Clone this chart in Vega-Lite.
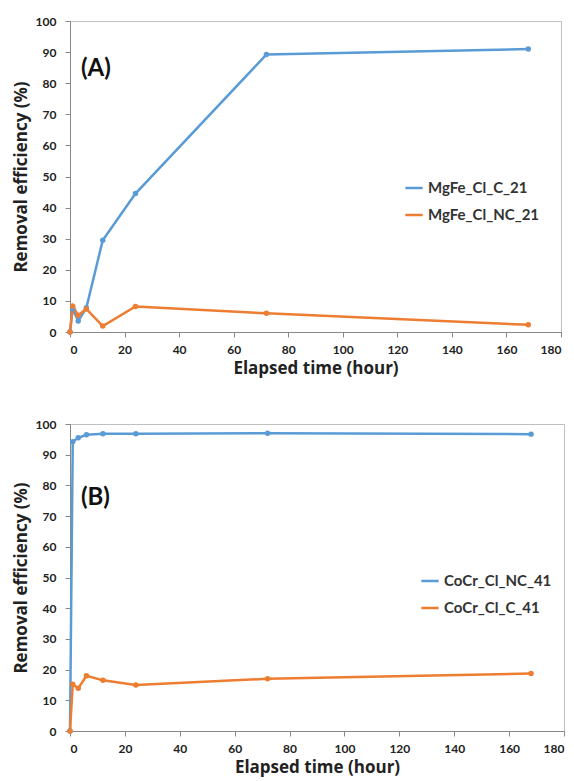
{
  "$schema": "https://vega.github.io/schema/vega-lite/v6.json",
  "background": "white",
  "padding": {"left": 11, "top": 14, "right": 5, "bottom": 5},
  "spacing": 40,
  "config": {
    "font": "Lato",
    "view": {"stroke": "#bfbfbf", "strokeWidth": 1},
    "axis": {
      "grid": false, "labelOverlap": false,
      "labelFont": "Lato", "labelFontWeight": "bold", "labelFontSize": 12, "labelColor": "#222",
      "titleFont": "Open Sans", "titleFontWeight": "bold", "titleFontSize": 17, "titleColor": "#222",
      "domainColor": "#888", "tickColor": "#888", "tickSize": 5
    },
    "axisY": {"labelPadding": 9, "titlePadding": 5},
    "axisX": {"labelPadding": 7, "titlePadding": 5},
    "legend": {"labelFont": "Lato", "labelFontWeight": "bold", "labelFontSize": 15, "labelColor": "#333", "symbolType": "stroke", "symbolStrokeWidth": 2.5, "symbolSize": 300, "rowPadding": 9}
  },
  "datasets": {
    "pts": [
      {"panel": "A", "series": "MgFe_Cl_C_21", "t": 0, "v": 0},
      {"panel": "A", "series": "MgFe_Cl_C_21", "t": 1, "v": 7.5},
      {"panel": "A", "series": "MgFe_Cl_C_21", "t": 3, "v": 3.5},
      {"panel": "A", "series": "MgFe_Cl_C_21", "t": 6, "v": 7.8},
      {"panel": "A", "series": "MgFe_Cl_C_21", "t": 12, "v": 29.5},
      {"panel": "A", "series": "MgFe_Cl_C_21", "t": 24, "v": 44.5},
      {"panel": "A", "series": "MgFe_Cl_C_21", "t": 72, "v": 89.2},
      {"panel": "A", "series": "MgFe_Cl_C_21", "t": 168, "v": 91},
      {"panel": "A", "series": "MgFe_Cl_NC_21", "t": 0, "v": 0},
      {"panel": "A", "series": "MgFe_Cl_NC_21", "t": 1, "v": 8.3},
      {"panel": "A", "series": "MgFe_Cl_NC_21", "t": 3, "v": 5.4},
      {"panel": "A", "series": "MgFe_Cl_NC_21", "t": 6, "v": 7.4},
      {"panel": "A", "series": "MgFe_Cl_NC_21", "t": 12, "v": 1.9},
      {"panel": "A", "series": "MgFe_Cl_NC_21", "t": 24, "v": 8.2},
      {"panel": "A", "series": "MgFe_Cl_NC_21", "t": 72, "v": 6},
      {"panel": "A", "series": "MgFe_Cl_NC_21", "t": 168, "v": 2.3},
      {"panel": "B", "series": "CoCr_Cl_NC_41", "t": 0, "v": 0},
      {"panel": "B", "series": "CoCr_Cl_NC_41", "t": 1, "v": 94.2},
      {"panel": "B", "series": "CoCr_Cl_NC_41", "t": 3, "v": 95.5},
      {"panel": "B", "series": "CoCr_Cl_NC_41", "t": 6, "v": 96.5},
      {"panel": "B", "series": "CoCr_Cl_NC_41", "t": 12, "v": 96.8},
      {"panel": "B", "series": "CoCr_Cl_NC_41", "t": 24, "v": 96.8},
      {"panel": "B", "series": "CoCr_Cl_NC_41", "t": 72, "v": 97},
      {"panel": "B", "series": "CoCr_Cl_NC_41", "t": 168, "v": 96.7},
      {"panel": "B", "series": "CoCr_Cl_C_41", "t": 0, "v": 0},
      {"panel": "B", "series": "CoCr_Cl_C_41", "t": 1, "v": 15.2},
      {"panel": "B", "series": "CoCr_Cl_C_41", "t": 3, "v": 13.9},
      {"panel": "B", "series": "CoCr_Cl_C_41", "t": 6, "v": 18},
      {"panel": "B", "series": "CoCr_Cl_C_41", "t": 12, "v": 16.5},
      {"panel": "B", "series": "CoCr_Cl_C_41", "t": 24, "v": 15},
      {"panel": "B", "series": "CoCr_Cl_C_41", "t": 72, "v": 17},
      {"panel": "B", "series": "CoCr_Cl_C_41", "t": 168, "v": 18.7}
    ],
    "labels": [
      {"panel": "A", "label": "(A)", "t": 4, "v": 84.5},
      {"panel": "B", "label": "(B)", "t": 4, "v": 76}
    ]
  },
  "resolve": {"scale": {"color": "independent"}, "legend": {"color": "independent"}},
  "vconcat": [
    {
      "width": 491, "height": 311,
      "encoding": {
        "x": {"field": "t", "type": "quantitative", "scale": {"domain": [0, 180]}, "axis": {"values": [0,20,40,60,80,100,120,140,160,180], "title": "Elapsed time (hour)"}},
        "y": {"field": "v", "type": "quantitative", "scale": {"domain": [0, 100]}, "axis": {"values": [0,10,20,30,40,50,60,70,80,90,100], "title": "Removal efficiency (%)"}}
      },
      "layer": [
        {
          "data": {"name": "pts"},
          "transform": [{"filter": "datum.panel === 'A'"}],
          "mark": {"type": "line", "point": {"size": 30, "filled": true}, "strokeWidth": 2.5},
          "encoding": {
            "color": {"field": "series", "type": "nominal", "scale": {"domain": ["MgFe_Cl_C_21", "MgFe_Cl_NC_21"], "range": ["#5B9BD5", "#ED7D31"]}, "legend": {"title": null, "orient": "none", "legendX": 334, "legendY": 157}}
          }
        },
        {
          "data": {"name": "labels"},
          "transform": [{"filter": "datum.panel === 'A'"}],
          "mark": {"type": "text", "align": "left", "baseline": "middle", "fontSize": 24, "fontWeight": "bold", "font": "Lato", "color": "#111"},
          "encoding": {"text": {"field": "label"}}
        }
      ]
    },
    {
      "width": 494, "height": 307,
      "encoding": {
        "x": {"field": "t", "type": "quantitative", "scale": {"domain": [0, 180]}, "axis": {"values": [0,20,40,60,80,100,120,140,160,180], "title": "Elapsed time (hour)"}},
        "y": {"field": "v", "type": "quantitative", "scale": {"domain": [0, 100]}, "axis": {"values": [0,10,20,30,40,50,60,70,80,90,100], "title": "Removal efficiency (%)"}}
      },
      "layer": [
        {
          "data": {"name": "pts"},
          "transform": [{"filter": "datum.panel === 'B'"}],
          "mark": {"type": "line", "point": {"size": 30, "filled": true}, "strokeWidth": 2.5},
          "encoding": {
            "color": {"field": "series", "type": "nominal", "scale": {"domain": ["CoCr_Cl_NC_41", "CoCr_Cl_C_41"], "range": ["#5B9BD5", "#ED7D31"]}, "legend": {"title": null, "orient": "none", "legendX": 350, "legendY": 147}}
          }
        },
        {
          "data": {"name": "labels"},
          "transform": [{"filter": "datum.panel === 'B'"}],
          "mark": {"type": "text", "align": "left", "baseline": "middle", "fontSize": 24, "fontWeight": "bold", "font": "Lato", "color": "#111"},
          "encoding": {"text": {"field": "label"}}
        }
      ]
    }
  ]
}
